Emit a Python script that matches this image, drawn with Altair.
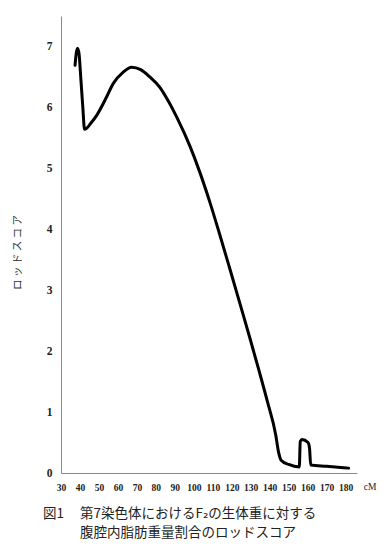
import altair as alt
import pandas as pd

# LOD score curve on chromosome 7
cm = [37.4, 38.0, 38.7, 39.5, 40.5, 41.5, 42.4, 46.2, 48.8, 54.0, 57.5, 62.8,
      67.2, 72.0, 76.8, 82.1, 87.0, 91.0, 98.0, 103.0, 108.4, 113.5, 118.9,
      124.5, 129.5, 134.0, 138.8, 143.2, 144.6, 146.0, 150.0, 155.6, 156.1,
      157.0, 160.2, 161.0, 161.6, 170.0, 181.6]
lod = [6.69, 6.88, 6.97, 6.88, 6.45, 6.00, 5.64, 5.76, 5.87, 6.17, 6.39, 6.58,
       6.66, 6.62, 6.50, 6.33, 6.08, 5.84, 5.36, 4.95, 4.45, 3.93, 3.36,
       2.76, 2.22, 1.72, 1.17, 0.62, 0.35, 0.21, 0.14, 0.10, 0.52,
       0.55, 0.50, 0.40, 0.13, 0.11, 0.08]

x_ticks = list(range(30, 190, 10))
y_ticks = [0, 1, 2, 3, 4, 5, 6, 7]
y_title = "ロ ッ ド ス コ ア"
x_unit = "cM"
caption_head = "図1"
caption_line1 = "第7染色体におけるF₂の生体重に対する"
caption_line2 = "腹腔内脂肪重量割合のロッドスコア"

df = pd.DataFrame({"cM": cm, "LOD": lod})

W, H = 296, 457
CJK = "Noto Sans CJK JP, DejaVu Sans"

line = alt.Chart(df).mark_line(color="black", strokeWidth=3, strokeJoin="round", strokeCap="round",
                               interpolate="monotone").encode(
    x=alt.X("cM:Q", scale=alt.Scale(domain=[30, 186], nice=False, zero=False),
            axis=alt.Axis(values=x_ticks, title=None, ticks=False, grid=False, labelPadding=9,
                          labelFont="Liberation Serif", labelFontWeight="bold", labelFontSize=9.5,
                          labelColor="#222", domainColor="#8a8a8a", domainWidth=1,
                          labelFlush=False, labelOverlap=False)),
    y=alt.Y("LOD:Q", scale=alt.Scale(domain=[0, 7.5], nice=False),
            axis=alt.Axis(values=y_ticks, title=y_title, ticks=False, grid=False, labelPadding=9,
                          labelFont="Liberation Serif", labelFontWeight="bold", labelFontSize=11.5,
                          labelColor="#222", domainColor="#8a8a8a", domainWidth=1,
                          titleFont=CJK, titleFontWeight="normal", titleFontSize=10.5,
                          titleColor="#333", titleX=-44, titleY=236, titleAngle=-90,
                          titleAlign="center", titleBaseline="middle", labelFlush=False)),
)


def label(text, x, y, font, size, align="left"):
    return alt.Chart(pd.DataFrame({"t": [text]})).mark_text(
        font=font, fontSize=size, color="#222", align=align, baseline="middle"
    ).encode(text="t:N", x=alt.value(x), y=alt.value(y))


unit = label(x_unit, 370 - 61, 487 - 16, "Liberation Serif", 9.5, "center")
cap_head = label(caption_head, 43 - 61, 514 - 16, CJK, 13.5)
cap1 = label(caption_line1, 80 - 61, 514 - 16, CJK, 13.5)
cap2 = label(caption_line2, 80 - 61, 533 - 16, CJK, 13.5)

chart = alt.layer(line, unit, cap_head, cap1, cap2).properties(
    width=W, height=H,
    background="white",
    autosize=alt.AutoSizeParams(type="none"),
    padding={"left": 61, "top": 16, "right": 391 - 61 - W, "bottom": 550 - 16 - H},
).configure_view(stroke=None)

chart.save("out.html", embed_options={"renderer": "svg", "actions": False})
